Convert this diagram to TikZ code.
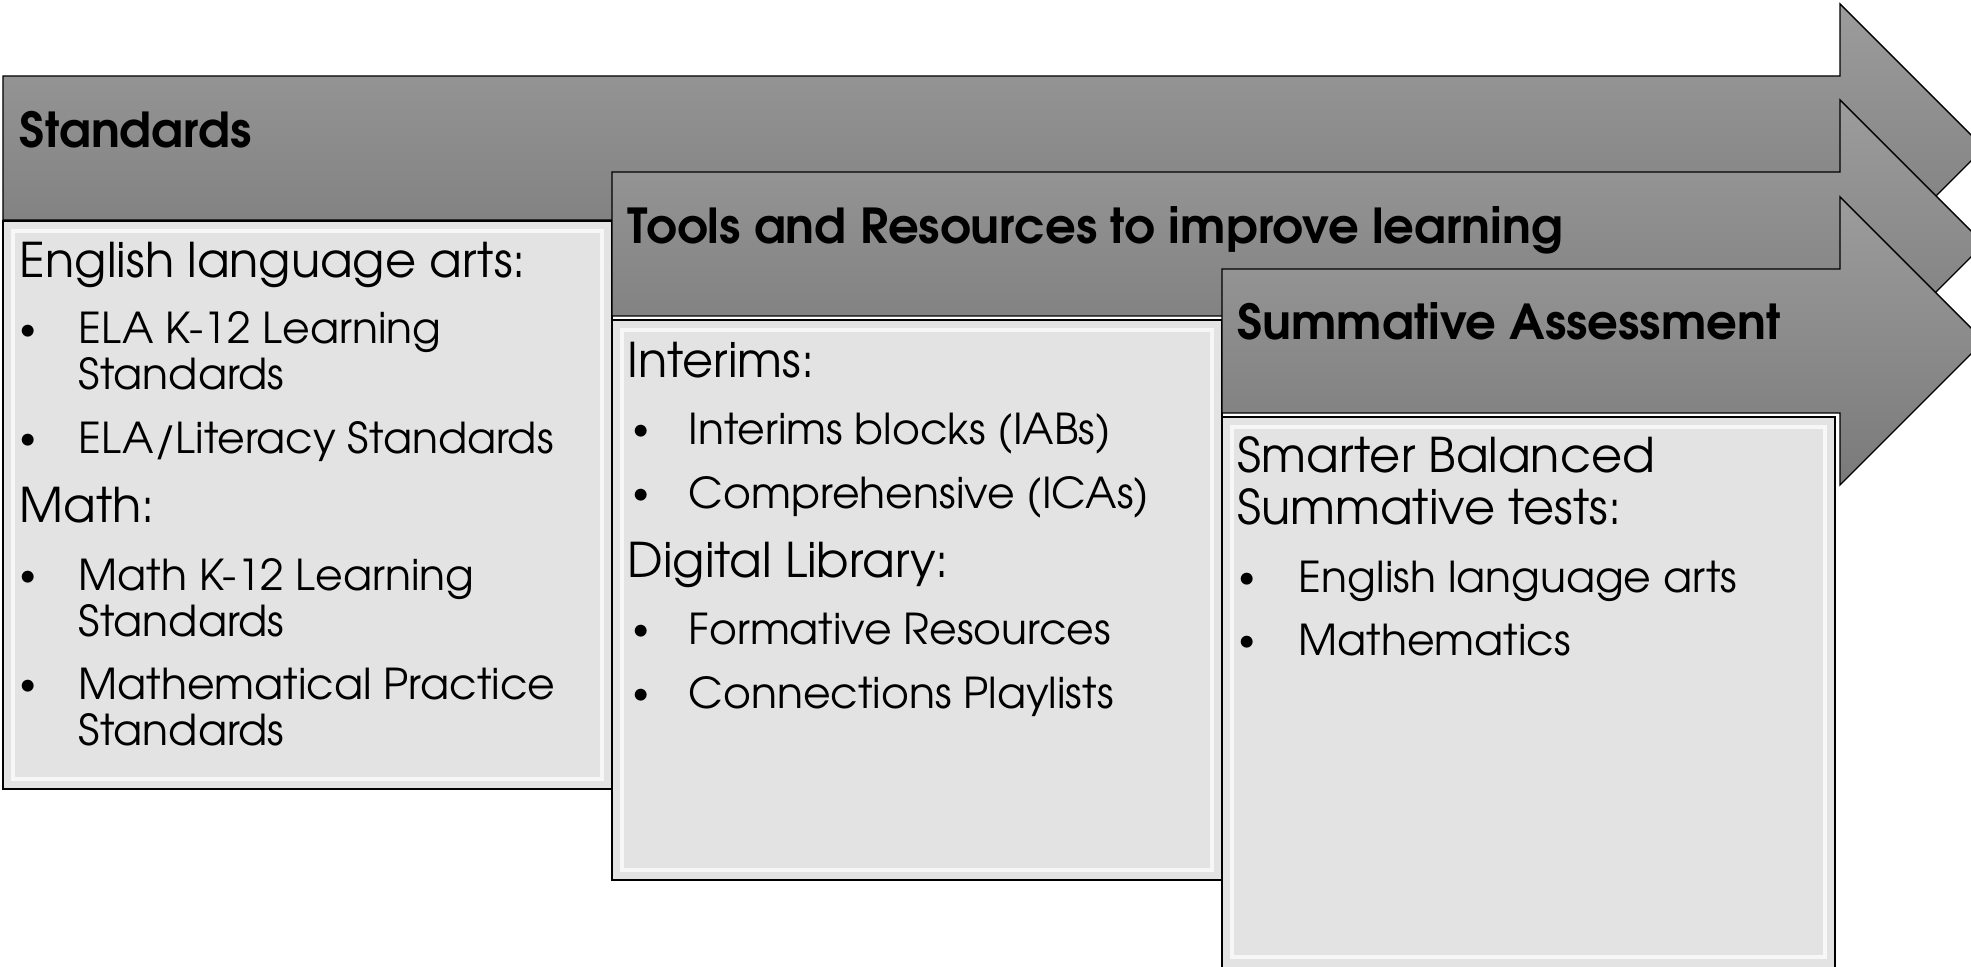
\documentclass[tikz,border=0pt]{standalone}
\usepackage{fontspec}
\setmainfont{texgyreadventor-regular.otf}[BoldFont=texgyreadventor-bold.otf]
\usepackage{tikz}
\usetikzlibrary{positioning, calc}
\definecolor{stagetop}{RGB}{156,156,156}
\definecolor{stagebot}{RGB}{122,122,122}
\definecolor{panelgray}{RGB}{227,227,227}

\begin{document}
\begin{tikzpicture}[
  x=0.01cm, y=-0.01cm,
  stage/.style={draw=black, line width=0.4pt, top color=stagetop, bottom color=stagebot},
  panel/.style={draw=black, line width=0.5pt, fill=panelgray},
  bevel/.style={draw=white, line width=1.4pt, opacity=0.75},
  title/.style={anchor=base west, inner sep=0pt, font=\fontsize{13.7}{16}\selectfont\bfseries},
  lead/.style={anchor=base west, inner sep=0pt, align=left, font=\fontsize{13.6}{14.9}\selectfont},
  item/.style={anchor=base west, inner sep=0pt, align=left, font=\fontsize{12.1}{13.1}\selectfont},
  dot/.style={anchor=base west, inner sep=0pt, yshift=1.5pt, font=\fontsize{9.5}{10}\selectfont},
]
\useasboundingbox (0,0) rectangle (1971,967);
\clip (0,0) rectangle (1971,967);

% stage 1
\shadedraw[stage] (3,76) -- (1840,76) -- (1840,4) -- (1984,148) -- (1840,292)
  -- (1840,220) -- (3,220) -- cycle;
\filldraw[panel] (3,221) rectangle (612,789);
\draw[bevel] (13,231) rectangle (602,779);

% stage 2
\shadedraw[stage] (612,172) -- (1840,172) -- (1840,100) -- (1984,244) -- (1840,388)
  -- (1840,316) -- (612,316) -- cycle;
\filldraw[panel] (612,320) rectangle (1222,880);
\draw[bevel] (622,330) rectangle (1212,870);

% stage 3
\shadedraw[stage] (1222,269) -- (1840,269) -- (1840,197) -- (1984,341) -- (1840,485)
  -- (1840,413) -- (1222,413) -- cycle;
\filldraw[panel] (1222,417) rectangle (1835,990);
\draw[bevel] (1232,427) rectangle (1825,957);

% headings
\node[title] (std) at (19,148) {Standards};
\node[title] (tools) at (627,244) {Tools and Resources to improve learning};
\node[title] (summ) at (1237,340) {Summative Assessment};

% standards panel (multi-line nodes sit on their last baseline)
\node[lead] (ela) at (19,278) {English language arts:};
\node[dot] at (19,345) {•};
\node[item] (elak) at (78,390) {ELA K-12 Learning\\Standards};
\node[dot] at (19,454) {•};
\node[item] (elalit) at (78,454) {ELA/Literacy Standards};
\node[lead] (math) at (19,523) {Math:};
\node[dot] at (19,591) {•};
\node[item] (mathk) at (78,637) {Math K-12 Learning\\Standards};
\node[dot] at (19,700) {•};
\node[item] (mathprac) at (78,746) {Mathematical Practice\\Standards};

% tools panel
\node[lead] (interims) at (627,378) {Interims:};
\node[dot] at (632,445) {•};
\node[item] (iab) at (688,445) {Interims blocks (IABs)};
\node[dot] at (632,509) {•};
\node[item] (ica) at (688,509) {Comprehensive (ICAs)};
\node[lead] (diglib) at (627,578) {Digital Library:};
\node[dot] at (632,645) {•};
\node[item] (formative) at (688,645) {Formative Resources};
\node[dot] at (632,709) {•};
\node[item] (playlists) at (688,709) {Connections Playlists};

% summative panel
\node[lead] (sbac) at (1237,525) {Smarter Balanced\\Summative tests:};
\node[dot] at (1238,593) {•};
\node[item] (sela) at (1298,593) {English language arts};
\node[dot] at (1238,656) {•};
\node[item] (smath) at (1298,656) {Mathematics};

\end{tikzpicture}
\end{document}
